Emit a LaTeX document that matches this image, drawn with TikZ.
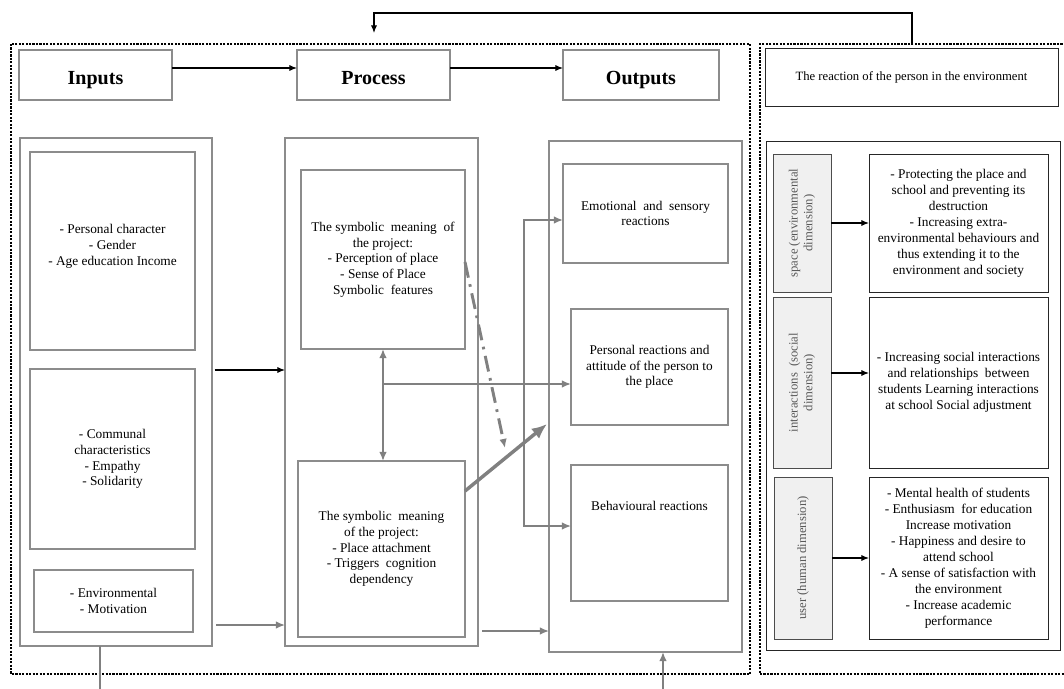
\documentclass[tikz,border=0pt]{standalone}
\usepackage{fontspec}
\setmainfont{Liberation Serif}
\usepackage{tikz}
\usetikzlibrary{arrows.meta}

\newcommand\boxfont{\fontsize{10}{11.8}\selectfont}
\newcommand\headfont{\fontsize{15}{18}\selectfont\bfseries}

\begin{document}
\begin{tikzpicture}[x=0.75pt, y=-0.75pt,
        sz/.style 2 args={minimum width=#1*0.75pt, minimum height=#2*0.75pt},
        gbox/.style={draw=gray!90, line width=1.2pt, inner sep=1pt, outer sep=0pt, align=center, font=\boxfont},
        hbox/.style={gbox, font=\headfont, text height=18pt, text depth=3.5pt},
        kbox/.style={draw=black!85, line width=0.7pt, inner sep=1pt, outer sep=0pt, align=center, font=\boxfont},
        lbox/.style={kbox, draw=black!70, fill=gray!12, text=black!65, font=\fontsize{9.5}{11}\selectfont, rotate=90},
        karr/.style={-{Latex[length=2mm, width=1.6mm]}, line width=0.8pt},
        garr/.style={-{Latex[length=2.4mm, width=2mm]}, draw=gray, line width=1.2pt},
        dotframe/.style={densely dotted, line width=1.6pt}]
        \useasboundingbox (0,0) rectangle (1064,689);

        % Frames
        \draw[dotframe] (11,44) rectangle (750,674);
        \draw[dotframe] (1066,44) -- (760,44) -- (760,674) -- (1066,674);

        % Headings
        \draw (95.5,75) node[hbox, sz={153}{50}] (inhead) {Inputs};
        \draw (373.5,75) node[hbox, sz={153}{50}] (prhead) {Process};
        \draw (641,75) node[hbox, sz={156}{50}] (ouhead) {Outputs};
        \draw (911.5,77) node[kbox, sz={293}{58}, font=\fontsize{9.5}{11}\selectfont] (rehead) {The reaction of the person in the environment};
        \draw[karr] (inhead.east |- 0,68) -- (prhead.west |- 0,68);
        \draw[karr] (prhead.east |- 0,68) -- (ouhead.west |- 0,68);

        % Feedback on top
        \coordinate (fbtop) at (912,44);
        \coordinate (fbend) at (374,33);
        \draw[karr] (fbtop) |- (fbend |- 0,13) -- (fbend);

        % Inputs
        \draw (116,392) node[gbox, sz={192}{508}] (inpanel) {};
        \draw (112.5,251) node[gbox, sz={165}{198}, text depth=9pt] (personal) {- Personal character\\- Gender\\- Age education Income};
        \draw (112.5,459) node[gbox, sz={165}{180}] (communal) {- Communal\\characteristics\\- Empathy\\- Solidarity};
        \draw (113.5,601) node[gbox, sz={159}{62}] (env) {- Environmental\\- Motivation};

        % Process
        \draw (381.5,392) node[gbox, sz={193}{508}] (prpanel) {};
        \draw (383,259.5) node[gbox, sz={164}{179}] (perception) {The symbolic\ \ meaning\ \ of\\the project:\\- Perception of place\\- Sense of Place\\Symbolic\ \ features};
        \draw (381.5,549) node[gbox, sz={167}{176}] (attach) {The symbolic\ \ meaning\\of the project:\\- Place attachment\\- Triggers\ \ cognition\\dependency};

        % Outputs
        \draw (645.5,396.5) node[gbox, sz={193}{511}] (oupanel) {};
        \draw (645.5,213.5) node[gbox, sz={165}{99}] (emotional) {Emotional\ \ and\ \ sensory\\reactions};
        \draw (649.5,367) node[gbox, sz={157}{116}] (persreact) {Personal reactions and\\attitude of the person to\\the place};
        \draw (649.5,533) node[gbox, sz={157}{136}, text depth=40pt] (behav) {Behavioural reactions};

        % Reaction of the person
        \draw (913,395.5) node[kbox, sz={294}{509}] (rpanel) {};
        \draw (802,223) node[lbox, sz={138}{58}] (space) {space (environmental\\dimension)};
        \draw (802,382.5) node[lbox, sz={171}{58}] (inter) {interactions\ \ (social\\dimension)};
        \draw (803,558) node[lbox, sz={162}{58}] (user) {user (human dimension)};
        \draw (958.5,223) node[kbox, sz={179}{138}, font=\fontsize{10}{12}\selectfont] (spacetxt) {- Protecting the place and\\school and preventing its\\destruction\\- Increasing extra-\\environmental behaviours and\\thus extending it to the\\environment and society};
        \draw (958.5,382.5) node[kbox, sz={179}{171}, font=\fontsize{10}{12}\selectfont] (intertxt) {- Increasing social interactions\\and relationships\ \ between\\students Learning interactions\\at school Social adjustment};
        \draw (958.5,558) node[kbox, sz={179}{162}, font=\fontsize{10}{12}\selectfont] (usertxt) {- Mental health of students\\- Enthusiasm\ \ for education\\Increase motivation\\- Happiness and desire to\\attend school\\- A sense of satisfaction with\\the environment\\- Increase academic\\performance};
        \draw[karr] (space.south) -- (spacetxt.west);
        \draw[karr] (inter.south |- 0,373) -- (intertxt.west |- 0,373);
        \draw[karr] (user.south) -- (usertxt.west);

        % Links between panels
        \draw[karr, shorten <=2pt] (inpanel.east |- 0,370) -- (prpanel.west |- 0,370);
        \draw[garr, shorten <=3pt] (inpanel.east |- 0,625) -- (prpanel.west |- 0,625);
        \draw[garr, shorten <=3pt] (prpanel.east |- 0,631) -- (oupanel.west |- 0,631);
        \draw[garr, {Latex[length=2.4mm, width=2mm]}-{Latex[length=2.4mm, width=2mm]}] (perception.south) -- (perception.south |- attach.north);
        \coordinate (split) at (perception.south |- 0,384);
        \draw[garr] (split) -- (persreact.west |- split);
        \coordinate (fork) at (524,384);
        \draw[garr] (fork) |- (emotional.west |- 0,220);
        \draw[garr] (fork) |- (behav.west |- 0,526);
        \coordinate (ddend) at (505,448);
        \draw[garr, line width=2.2pt, dash pattern=on 12pt off 5pt on 2pt off 5pt] (perception.east |- 0,262) -- (ddend);
        \coordinate (thickend) at (547,424);
        \draw[garr, line width=2.6pt, -{Latex[length=4mm, width=3.4mm]}] (attach.east |- 0,491) -- (thickend);

        % From below
        \coordinate (inbot) at (100,689);
        \coordinate (oubot) at (663,689);
        \draw[gray, line width=1.2pt] (inbot) -- (inbot |- inpanel.south);
        \draw[garr] (oubot) -- (oubot |- oupanel.south);
\end{tikzpicture}
\end{document}
